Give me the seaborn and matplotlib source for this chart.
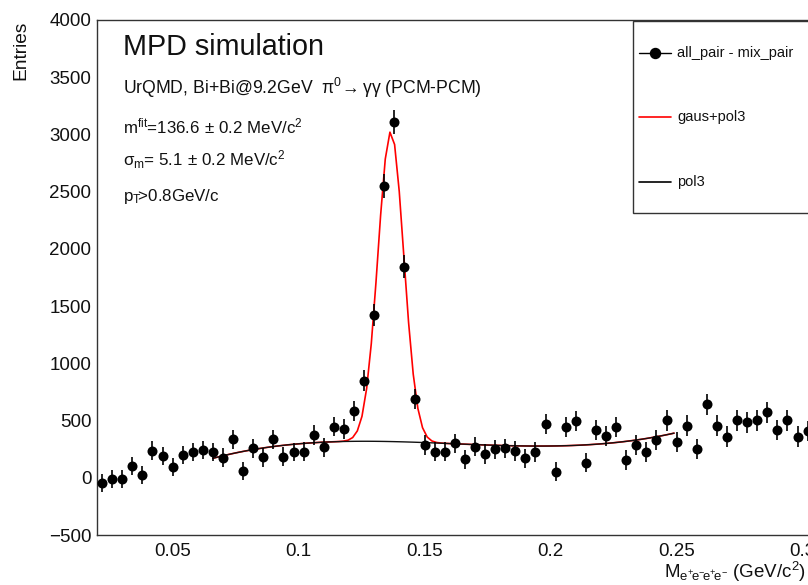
import numpy as np
import pandas as pd
import matplotlib
matplotlib.use("Agg")
import matplotlib.pyplot as plt
from matplotlib.lines import Line2D
from matplotlib.patches import Rectangle
import seaborn as sns

# ---------------- data ----------------
mass = [0.022, 0.026, 0.030, 0.034, 0.038, 0.042, 0.046, 0.050, 0.054, 0.058,
        0.062, 0.066, 0.070, 0.074, 0.078, 0.082, 0.086, 0.090, 0.094, 0.098,
        0.102, 0.106, 0.110, 0.114, 0.118, 0.122, 0.126, 0.130, 0.134, 0.138,
        0.142, 0.146, 0.150, 0.154, 0.158, 0.162, 0.166, 0.170, 0.174, 0.178,
        0.182, 0.186, 0.190, 0.194, 0.198, 0.202, 0.206, 0.210, 0.214, 0.218,
        0.222, 0.226, 0.230, 0.234, 0.238, 0.242, 0.246, 0.250, 0.254, 0.258,
        0.262, 0.266, 0.270, 0.274, 0.278, 0.282, 0.286, 0.290, 0.294, 0.298,
        0.302]
entries = [-45, -13, -8, 103, 22, 237, 190, 92, 199, 228,
           240, 223, 176, 336, 62, 258, 179, 336, 185, 226,
           228, 374, 266, 447, 424, 580, 846, 1423, 2551, 3107,
           1845, 689, 287, 228, 228, 301, 162, 272, 208, 249,
           258, 234, 170, 226, 467, 53, 447, 497, 132, 418,
           365, 447, 155, 287, 226, 328, 502, 313, 456, 252,
           642, 456, 360, 502, 485, 502, 572, 418, 502, 360,
           409]
errors = [78, 78, 78, 80, 78, 80, 80, 80, 80, 80,
          80, 80, 80, 82, 80, 82, 82, 84, 82, 82,
          82, 84, 84, 86, 86, 88, 92, 96, 102, 105,
          98, 88, 84, 84, 84, 84, 82, 84, 84, 84,
          84, 84, 84, 84, 88, 84, 88, 88, 84, 88,
          88, 88, 84, 86, 86, 88, 90, 88, 90, 88,
          92, 90, 90, 92, 92, 92, 92, 90, 92, 90,
          90]

# fit results (gaus + pol3), pol3 in t = (m - 0.15)/0.1
fit_range = (0.066, 0.249)
gaus_amp, gaus_mean, gaus_sigma = 2710.0, 0.1366, 0.0051
pol3_coef = [307.6, -81.7, -81.7, 250.8]

legend_labels = ["all_pair - mix_pair", "gaus+pol3", "pol3"]

# ---------------- style ----------------
sns.set_style("white")
plt.rcParams["font.family"] = ["Liberation Sans", "DejaVu Sans"]
plt.rcParams["mathtext.fontset"] = "custom"
plt.rcParams["mathtext.rm"] = "Liberation Sans"
plt.rcParams["mathtext.it"] = "Liberation Sans:italic"
plt.rcParams["mathtext.sf"] = "Liberation Sans"
plt.rcParams["mathtext.default"] = "regular"

W, H = 808, 585
fig = plt.figure(figsize=(W / 100, H / 100), dpi=100)
fig.patch.set_facecolor("white")


def fx(x):
    return x / W


def fy(y):
    return 1 - y / H


ax = fig.add_axes([97 / W, 50 / H, 756 / W, 515 / H])
ax.set_facecolor("white")

df = pd.DataFrame({"mass": mass, "entries": entries, "err": errors})

# fit curves
m_fit = np.linspace(fit_range[0], fit_range[1], 100)
t = (m_fit - 0.15) / 0.1
bkg = pol3_coef[0] + pol3_coef[1] * t + pol3_coef[2] * t ** 2 + pol3_coef[3] * t ** 3
total = bkg + gaus_amp * np.exp(-0.5 * ((m_fit - gaus_mean) / gaus_sigma) ** 2)
curves = pd.DataFrame({"m": m_fit, "total": total, "bkg": bkg})

sns.lineplot(data=curves, x="m", y="total", ax=ax, color="#ff0000", lw=1.2,
             estimator=None, sort=False, zorder=2)
sns.lineplot(data=curves, x="m", y="bkg", ax=ax, color="#111111", lw=1.0,
             estimator=None, sort=False, zorder=3)

# data points with error bars
ax.errorbar(df["mass"], df["entries"], yerr=df["err"], fmt="none",
            ecolor="black", elinewidth=1.2, capsize=0, zorder=4)
sns.scatterplot(data=df, x="mass", y="entries", ax=ax, color="black",
                s=52, edgecolor="black", linewidth=0, zorder=5, legend=False)

# axes
ax.set_xlim(0.02, 0.32)
ax.set_ylim(-500, 4000)
ax.set_xticks([0.05, 0.1, 0.15, 0.2, 0.25, 0.3])
ax.set_xticklabels(["0.05", "0.1", "0.15", "0.2", "0.25", "0.3"])
ax.set_xticks(np.arange(0.02, 0.321, 0.01), minor=True)
ax.set_yticks(np.arange(-500, 4001, 500))
ax.set_yticks(np.arange(-500, 4001, 100), minor=True)
ax.tick_params(axis="both", which="both", direction="in", color="black",
               width=0.9, labelsize=13.5, labelcolor="#111111")
ax.tick_params(axis="y", which="major", length=16, pad=4)
ax.tick_params(axis="y", which="minor", length=8)
ax.tick_params(axis="x", which="major", length=11, pad=6)
ax.tick_params(axis="x", which="minor", length=5.5)
for side in ["left", "bottom", "top", "right"]:
    ax.spines[side].set_visible(True)
    ax.spines[side].set_color("#333333")
    ax.spines[side].set_linewidth(1.0)
ax.set_xlabel("")
ax.set_ylabel("")

# axis titles
fig.text(fx(21), fy(21), "Entries", rotation=90, ha="center", va="top",
         fontsize=13.8, color="#111111")
fig.text(fx(806), fy(578),
         r"M$_{e^{+}\!e^{-}\!e^{+}\!e^{-}}$ (GeV/c$^{2}$)",
         ha="right", va="baseline", fontsize=13.5, color="#111111")

# annotations
fig.text(fx(123), fy(55), "MPD simulation", fontsize=20.7, va="baseline",
         color="#111111")
fig.text(fx(123), fy(94),
         r"UrQMD, Bi+Bi@9.2GeV  $\pi^{0}\!\rightarrow\gamma\gamma$ (PCM-PCM)",
         fontsize=12.7, va="baseline", color="#111111")
fig.text(fx(123), fy(133), r"m$^{fit}$=136.6$\,\pm\,$0.2 MeV/c$^{2}$",
         fontsize=12.2, va="baseline", color="#111111")
fig.text(fx(123), fy(166), r"$\sigma_{m}$= 5.1$\,\pm\,$0.2 MeV/c$^{2}$",
         fontsize=12.2, va="baseline", color="#111111")
fig.text(fx(123), fy(201), r"p$_{T}\!$>0.8GeV/c",
         fontsize=12.2, va="baseline", color="#111111")

# legend box (extends past the right edge, as in the reference)
fig.add_artist(Rectangle((fx(633), fy(213)), fx(900) - fx(633), fy(21) - fy(213),
                         transform=fig.transFigure, facecolor="white",
                         edgecolor="#333333", lw=1.0, zorder=10))
leg_y = [53, 117, 182]
fig.add_artist(Line2D([fx(639), fx(671)], [fy(leg_y[0])] * 2, color="black",
                      lw=1.0, transform=fig.transFigure, zorder=11))
fig.add_artist(Line2D([fx(655)], [fy(leg_y[0])], color="black", marker="o",
                      markersize=7.2, transform=fig.transFigure, zorder=12))
fig.add_artist(Line2D([fx(639), fx(671)], [fy(leg_y[1])] * 2, color="#ff0000",
                      lw=1.2, transform=fig.transFigure, zorder=11))
fig.add_artist(Line2D([fx(639), fx(671)], [fy(leg_y[2])] * 2, color="black",
                      lw=1.2, transform=fig.transFigure, zorder=11))
for lab, yy in zip(legend_labels, leg_y):
    fig.text(fx(677), fy(yy), lab, fontsize=10.5, va="center", ha="left",
             color="#111111", zorder=12)

fig.savefig("out.png", dpi=100)
